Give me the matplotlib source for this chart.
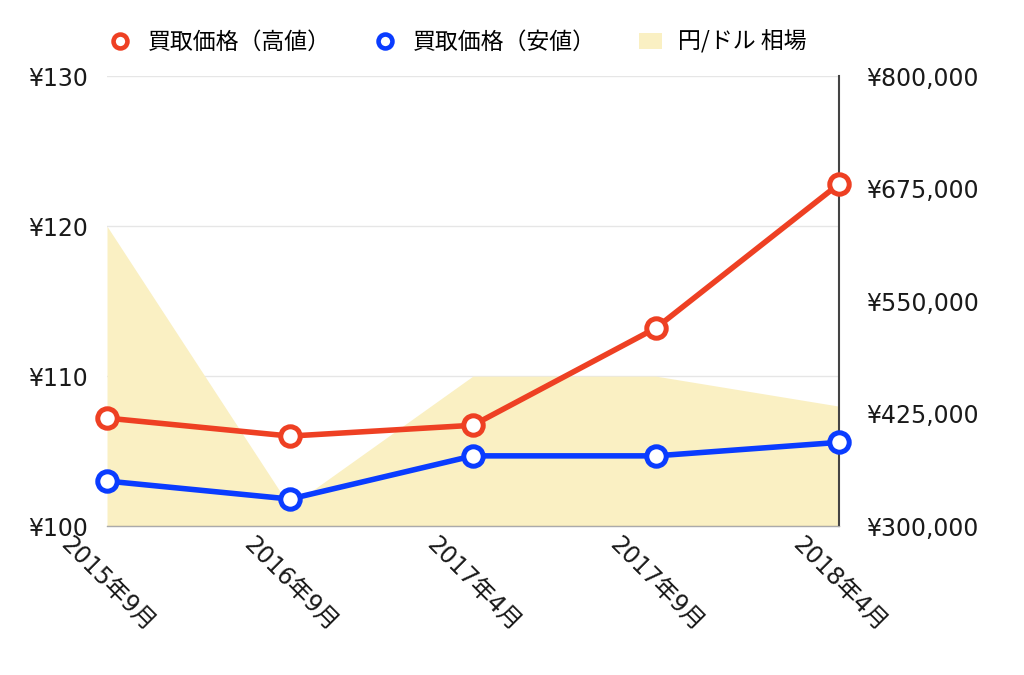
import numpy as np
import matplotlib
matplotlib.use('Agg')
import matplotlib.pyplot as plt
from matplotlib.lines import Line2D
from matplotlib.patches import Patch
from matplotlib.ticker import FuncFormatter

plt.rcParams['font.family'] = ['DejaVu Sans', 'Noto Sans CJK JP']

fechas = ['2015年9月', '2016年9月', '2017年4月', '2017年9月', '2018年4月']
precio_alto = [420000, 400000, 412000, 520000, 680000]
precio_bajo = [350000, 330000, 378000, 378000, 393000]
tipo_cambio = [120, 101.3, 110, 110, 108]

rojo = '#ee4023'
azul = '#0a3cff'
arena = '#faf0c3'

x = np.arange(len(fechas))

fig = plt.figure(figsize=(10.24, 6.75), dpi=100)
ax = fig.add_axes([0.1045, 0.2207, 0.7145, 0.6663])
ax2 = ax.twinx()

ax.fill_between(x, 100, tipo_cambio, color=arena, lw=0, zorder=1)
ax.set_ylim(100, 130)
ax.set_xlim(x[0], x[-1])
ax.set_yticks([100, 110, 120, 130])
ax.yaxis.set_major_formatter(FuncFormatter(lambda v, p: f'¥{v:.0f}'))
ax.grid(axis='y', color='#e6e6e6', lw=1, zorder=0)
ax.set_axisbelow(True)

for serie, color in [(precio_alto, rojo), (precio_bajo, azul)]:
    ax2.plot(x, serie, color=color, lw=4, marker='o', ms=14,
             mfc='white', mec=color, mew=3.6, zorder=3, clip_on=False)
ax2.set_ylim(300000, 800000)
ax2.set_yticks([300000, 425000, 550000, 675000, 800000])
ax2.yaxis.set_major_formatter(FuncFormatter(lambda v, p: f'¥{v:,.0f}'))

for a in (ax, ax2):
    a.tick_params(length=0, labelsize=17, colors='#1a1a1a')
    for s in ('top', 'left'):
        a.spines[s].set_visible(False)
ax.spines['right'].set_visible(False)
ax2.spines['right'].set_color('#444444')
ax2.spines['right'].set_linewidth(1.5)
ax2.spines['bottom'].set_color('#aaaaaa')

ax.set_xticks(x)
ax.set_xticklabels(fechas, rotation=-45, ha='center')
ax.tick_params(axis='x', pad=5)
ax.tick_params(axis='y', pad=14)
ax2.tick_params(axis='y', pad=20)

handles = [
    Line2D([], [], ls='none', marker='o', ms=10, mfc='white', mec=rojo, mew=3.3),
    Line2D([], [], ls='none', marker='o', ms=10, mfc='white', mec=azul, mew=3.3),
    Patch(facecolor=arena, edgecolor='none'),
]
etiquetas = ['買取価格（高値）', '買取価格（安値）', '円/ドル 相場']
fig.legend(handles, etiquetas, loc='center', bbox_to_anchor=(0.447, 0.938),
           ncol=3, frameon=False, handlelength=1.0,
           handletextpad=0.7, columnspacing=1.9,
           prop={'family': ['Noto Sans CJK JP', 'DejaVu Sans'], 'size': 16.5})

fig.savefig('out.png', dpi=100, facecolor='white')
